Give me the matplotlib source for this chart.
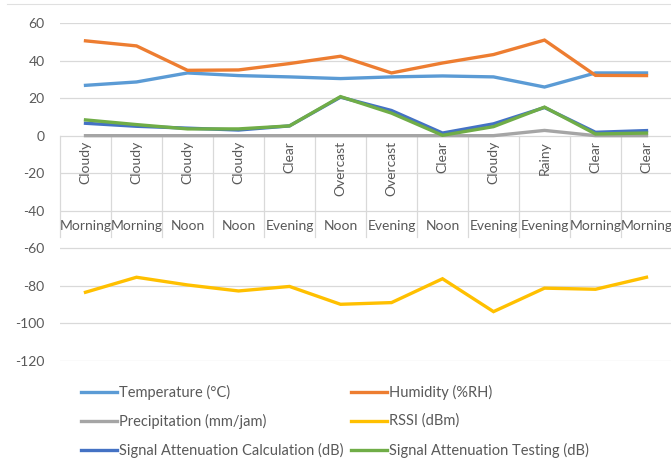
import numpy as np
import matplotlib
matplotlib.use('Agg')
import matplotlib.pyplot as plt
from matplotlib.lines import Line2D

# categories (two level axis)
weather = ['Cloudy', 'Cloudy', 'Cloudy', 'Cloudy', 'Clear', 'Overcast',
           'Overcast', 'Clear', 'Cloudy', 'Rainy', 'Clear', 'Clear']
time_of_day = ['Morning', 'Morning', 'Noon', 'Noon', 'Evening', 'Noon',
               'Evening', 'Noon', 'Evening', 'Evening', 'Morning', 'Morning']

# series values
temperature = [26.8, 28.6, 33.4, 32.0, 31.3, 30.4, 31.3, 31.8, 31.3, 25.9, 33.4, 33.4]
humidity = [50.5, 47.8, 34.8, 35.0, 38.4, 42.3, 33.4, 38.7, 43.2, 50.9, 32.1, 32.0]
precipitation = [0, 0, 0, 0, 0, 0, 0, 0, 0, 2.8, 0, 0]
rssi = [-83.4, -75.4, -79.5, -82.7, -80.3, -89.8, -88.9, -76.2, -93.7, -81.2, -81.8, -75.4]
att_calc = [6.6, 5.0, 4.0, 3.0, 5.2, 20.5, 13.4, 1.4, 6.3, 15.0, 1.8, 2.7]
att_test = [8.4, 5.9, 3.6, 3.6, 5.2, 20.8, 12.0, 0.2, 4.8, 15.2, 0.9, 1.4]

series = [
    ('Temperature (°C)', temperature, '#5B9BD5'),
    ('Humidity (%RH)', humidity, '#ED7D31'),
    ('Precipitation (mm/jam)', precipitation, '#A5A5A5'),
    ('RSSI (dBm)', rssi, '#FFC000'),
    ('Signal Attenuation Calculation (dB)', att_calc, '#4472C4'),
    ('Signal Attenuation Testing (dB)', att_test, '#70AD47'),
]

plt.rcParams['font.family'] = ['Lato', 'DejaVu Sans']
plt.rcParams['axes.unicode_minus'] = False
W, H = 671, 465
fig = plt.figure(figsize=(W / 100, H / 100), dpi=100)
ax = fig.add_axes([60 / W, 1 - 361 / H, 612 / W, (361 - 23) / H])

x = np.arange(len(weather))
for name, vals, col in series:
    ax.plot(x, vals, color=col, lw=2.4, solid_joinstyle='miter', zorder=3)

ax.set_xlim(-0.5, len(weather) - 0.5)
ax.set_ylim(-120, 60)
ax.set_yticks(np.arange(-120, 61, 20))
ax.tick_params(axis='y', length=0, labelsize=10, labelcolor='#595959', pad=11)
ax.set_xticks([])
for s in ax.spines.values():
    s.set_visible(False)
ax.grid(axis='y', color='#D9D9D9', lw=0.9, zorder=0)

# category separators and labels
for b in np.arange(-0.5, len(weather), 1.0):
    ax.plot([b, b], [0, -54], color='#D9D9D9', lw=0.9, clip_on=False, zorder=1)
for i in range(len(weather)):
    ax.annotate(weather[i], (i, 0), xytext=(0, -4), textcoords='offset points',
                rotation=90, ha='center', va='top', fontsize=10, color='#595959')
    ax.annotate(time_of_day[i], (i, 0), xytext=(0, -65), textcoords='offset points',
                ha='center', va='center', fontsize=10, color='#595959',
                annotation_clip=False)

# legend, two columns
cols_x = [81, 351]
rows_y = [392, 421, 450]
for k, (name, vals, col) in enumerate(series):
    cx = cols_x[k % 2]
    cy = rows_y[k // 2]
    fig.add_artist(Line2D([cx / W, (cx + 36) / W], [1 - cy / H, 1 - cy / H],
                          color=col, lw=2.4, transform=fig.transFigure))
    fig.text((cx + 38) / W, 1 - cy / H, name, ha='left', va='center',
             fontsize=10.5, color='#595959')

# thin page line at top
fig.add_artist(Line2D([7 / W, 1], [1 - 4 / H, 1 - 4 / H], color='#E0E0E0',
                      lw=0.8, transform=fig.transFigure))

fig.savefig('out.png', dpi=100)
